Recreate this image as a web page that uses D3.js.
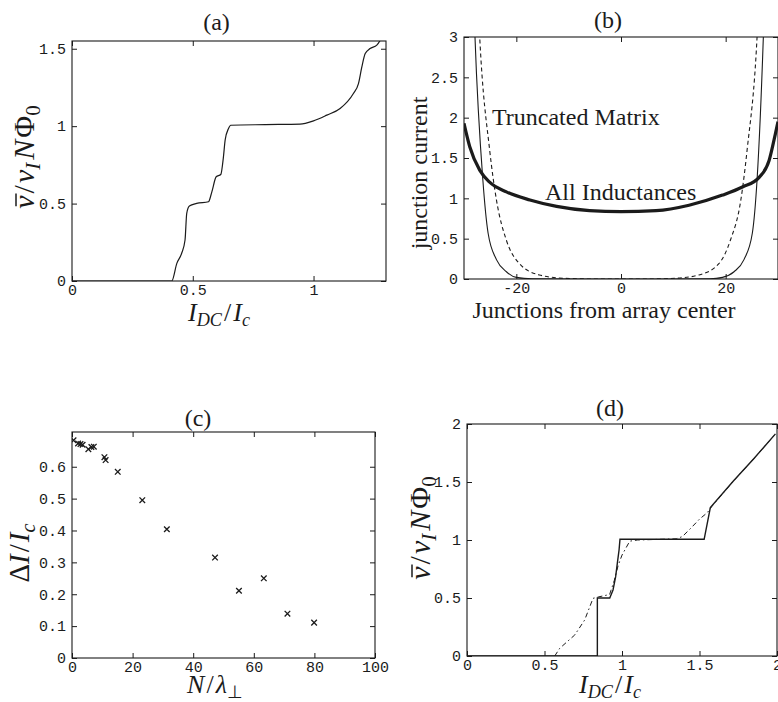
<!DOCTYPE html>
<html>
<head>
<meta charset="utf-8">
<script src="https://cdn.jsdelivr.net/npm/d3@7"></script>
<style>
  body { margin: 0; background: #fff; }
  svg { display: block; }
</style>
</head>
<body>
<svg id="fig" width="778" height="702"></svg>
<script>
// ---------- (a) averaged voltage vs. bias current ----------
const aCurrent = [0, 0.413, 0.434, 0.454, 0.468, 0.475, 0.486, 0.516, 0.565, 0.579, 0.597, 0.616,
                  0.627, 0.634, 0.648, 0.657, 0.8, 0.944, 1.0, 1.055, 1.11, 1.165, 1.186, 1.2,
                  1.214, 1.234, 1.262, 1.285];
const aVoltage = [0, 0, 0.114, 0.179, 0.265, 0.437, 0.484, 0.501, 0.512, 0.576, 0.673, 0.688,
                  0.802, 0.91, 0.985, 1.006, 1.01, 1.013, 1.034, 1.071, 1.114, 1.211, 1.275, 1.383,
                  1.469, 1.501, 1.523, 1.58];
const aXTicks = [0, 0.5, 1];
const aXTickLabels = ["0", "0.5", "1"];
const aYTicks = [0, 0.5, 1, 1.5];
const aYTickLabels = ["0", "0.5", "1", "1.5"];

// ---------- (b) junction current profile along the array ----------
const bTruncJ = [-30, -29, -27.9, -26.4, -25.4, -23.8, -21.9, -20, -17, 0, 17, 19.4, 21.6, 23.5, 25.1, 26.0, 27.2, 28.3, 30];
const bTruncI = [8, 5.5, 3.0, 1.23, 0.57, 0.24, 0.09, 0.02, 0.003, 0, 0.003, 0.02, 0.09, 0.24, 0.57, 1.23, 3.0, 5.5, 9];
const bDashJ = [-29.5, -28.5, -27.0, -25.1, -23.8, -21.9, -19.4, -15.6, -11.1, -5, 0, 5, 10.5, 14.9, 18.7, 20.9, 22.9, 24.1, 26.0, 27.5, 29];
const bDashI = [8, 5.5, 3.0, 1.6, 0.98, 0.48, 0.19, 0.05, 0.01, 0, 0, 0, 0.01, 0.05, 0.19, 0.48, 0.98, 1.6, 3.0, 5.5, 8];
const bAllJ = [-30, -28.9, -27, -25.1, -21.9, -17.4, -12.3, -6, 0, 6.7, 13, 19.4, 23.2, 26.4, 28.3, 29.5, 30];
const bAllI = [1.93, 1.64, 1.35, 1.2, 1.08, 0.98, 0.9, 0.847, 0.834, 0.847, 0.915, 1.04, 1.14, 1.26, 1.47, 1.8, 1.95];
const bXTicks = [-20, 0, 20];
const bXTickLabels = ["-20", "0", "20"];
const bYTicks = [0, 0.5, 1, 1.5, 2, 2.5, 3];
const bYTickLabels = ["0", "0.5", "1", "1.5", "2", "2.5", "3"];

// ---------- (c) step width vs. N / lambda ----------
const cRatio = [0.5, 2.0, 2.8, 3.5, 5.4, 6.4, 7.2, 10.7, 11.1, 15.1, 23.2, 31.3, 47.2, 55.1, 63.3, 71.1, 79.9];
const cWidth = [0.683, 0.673, 0.671, 0.669, 0.655, 0.662, 0.663, 0.63, 0.621, 0.584, 0.495, 0.404, 0.315, 0.211, 0.25, 0.139, 0.111];
const cXTicks = [0, 20, 40, 60, 80, 100];
const cXTickLabels = ["0", "20", "40", "60", "80", "100"];
const cYTicks = [0, 0.1, 0.2, 0.3, 0.4, 0.5, 0.6];
const cYTickLabels = ["0", "0.1", "0.2", "0.3", "0.4", "0.5", "0.6"];

// ---------- (d) two I-V curves ----------
const dSolidI = [0, 0.841, 0.841, 0.921, 0.942, 0.959, 0.970, 0.981, 0.987, 1.53, 1.57, 1.72, 1.85, 1.99];
const dSolidV = [0, 0, 0.5, 0.5, 0.569, 0.684, 0.8, 0.914, 1.006, 1.006, 1.28, 1.51, 1.7, 1.915];
const dDashI = [0.566, 0.598, 0.695, 0.759, 0.813, 0.85, 0.92, 0.95, 0.975, 1.0, 1.05, 1.1, 1.35, 1.39, 1.45, 1.5, 1.55, 1.58, 1.72, 1.85, 1.99];
const dDashV = [0, 0.066, 0.181, 0.31, 0.497, 0.51, 0.53, 0.65, 0.78, 0.87, 0.99, 1.0, 1.01, 1.03, 1.11, 1.18, 1.235, 1.29, 1.51, 1.7, 1.915];
const dXTicks = [0, 0.5, 1, 1.5, 2];
const dXTickLabels = ["0", "0.5", "1", "1.5", "2"];
const dYTicks = [0, 0.5, 1, 1.5, 2];
const dYTickLabels = ["0", "0.5", "1", "1.5", "2"];

const INK = "#1b1b1b";
const SERIF = '"Liberation Serif", "Times New Roman", serif';
const MONO = '"Liberation Mono", "Courier New", monospace';
const svg = d3.select("#fig");
let clipCount = 0;

// Boxed axes with inward ticks on all four sides.
function panel(box, xDom, yDom, xt, xtl, yt, ytl) {
  const x = d3.scaleLinear().domain(xDom).range([box.l, box.r]);
  const y = d3.scaleLinear().domain(yDom).range([box.b, box.t]);
  const g = svg.append("g");
  const fmt = (ticks, labels) => d => labels[ticks.indexOf(d)];
  const blank = () => "";
  const style = sel => {
    sel.select(".domain").remove();
    sel.selectAll("line").attr("stroke", INK);
    sel.selectAll("text").attr("font-family", MONO).attr("font-size", 15).attr("fill", INK);
  };
  g.append("g").attr("transform", `translate(0,${box.b})`)
    .call(d3.axisBottom(x).tickValues(xt).tickFormat(fmt(xt, xtl)).tickSizeInner(-5).tickSizeOuter(0).tickPadding(3))
    .call(style);
  g.append("g").attr("transform", `translate(0,${box.t})`)
    .call(d3.axisTop(x).tickValues(xt).tickFormat(blank).tickSizeInner(-5).tickSizeOuter(0))
    .call(style);
  g.append("g").attr("transform", `translate(${box.l},0)`)
    .call(d3.axisLeft(y).tickValues(yt).tickFormat(fmt(yt, ytl)).tickSizeInner(-5).tickSizeOuter(0).tickPadding(6))
    .call(style);
  g.append("g").attr("transform", `translate(${box.r},0)`)
    .call(d3.axisRight(y).tickValues(yt).tickFormat(blank).tickSizeInner(-5).tickSizeOuter(0))
    .call(style);

  const id = "clip" + (clipCount++);
  svg.append("clipPath").attr("id", id).append("rect")
    .attr("x", box.l).attr("y", box.t).attr("width", box.r - box.l).attr("height", box.b - box.t);
  const plot = g.append("g").attr("clip-path", `url(#${id})`);

  g.append("rect").attr("x", box.l).attr("y", box.t)
    .attr("width", box.r - box.l).attr("height", box.b - box.t)
    .attr("fill", "none").attr("stroke", INK).attr("stroke-width", 1.1);
  return { g, x, y, plot };
}

function serifText(txt, x, y, opts = {}) {
  const t = svg.append("text").attr("x", x).attr("y", y)
    .attr("font-family", SERIF).attr("font-size", opts.size || 24).attr("fill", INK)
    .attr("text-anchor", opts.anchor || "middle").text(txt);
  if (opts.rotate) t.attr("transform", `rotate(${opts.rotate},${x},${y})`);
  return t;
}

// Small math label built from pieces: italic letters, subscripts, overline.
function mathLabel(pieces, size, x, y, rotate) {
  const g = svg.append("g").attr("transform", `translate(${x},${y})` + (rotate ? ` rotate(${rotate})` : ""));
  const inner = g.append("g");
  let cx = 0;
  pieces.forEach(p => {
    const fs = p.sub ? size * 0.7 : size;
    const t = inner.append("text").attr("x", cx).attr("y", p.sub ? size * 0.2 : 0)
      .attr("font-family", SERIF).attr("font-size", fs).attr("fill", INK)
      .attr("font-style", p.it ? "italic" : "normal").text(p.t);
    const w = t.node().getComputedTextLength();
    if (p.over) {
      inner.append("line").attr("x1", cx + size * 0.08).attr("x2", cx + w + size * 0.06)
        .attr("y1", -size * 0.6).attr("y2", -size * 0.6)
        .attr("stroke", INK).attr("stroke-width", size * 0.05);
    }
    cx += w + (p.gap || 0);
  });
  inner.attr("transform", `translate(${-cx / 2},0)`);
  return g;
}

const vLabel = [{ t: "v", it: true, over: true, gap: 2 }, { t: "/", gap: 2 }, { t: "ν", it: true },
                { t: "I", it: true, sub: true, gap: 3 }, { t: "N", it: true, gap: 2 }, { t: "Φ" }, { t: "0", sub: true }];
const iLabel = [{ t: "I", it: true }, { t: "DC", it: true, sub: true, gap: 2 }, { t: "/", gap: 2 },
                { t: "I", it: true }, { t: "c", it: true, sub: true }];
const dLabel = [{ t: "Δ" }, { t: "I", it: true, gap: 2 }, { t: "/", gap: 2 }, { t: "I", it: true }, { t: "c", it: true, sub: true }];
const nLabel = [{ t: "N", it: true, gap: 2 }, { t: "/", gap: 2 }, { t: "λ", it: true }, { t: "⊥", sub: true }];

// ---------- panel (a) ----------
{
  const p = panel({ l: 72, r: 386, t: 41, b: 281 }, [0, 1.3], [0, 1.55], aXTicks, aXTickLabels, aYTicks, aYTickLabels);
  const line = d3.line().x((d, i) => p.x(aCurrent[i])).y(d => p.y(d)).curve(d3.curveMonotoneX);
  p.plot.append("path").attr("d", line(aVoltage)).attr("fill", "none").attr("stroke", INK).attr("stroke-width", 1.2);
  serifText("(a)", 216.5, 30);
  mathLabel(vLabel, 30, 34, 157, -90);
  mathLabel(iLabel, 26, 219, 321);
}

// ---------- panel (b) ----------
{
  const p = panel({ l: 464, r: 778, t: 37, b: 279 }, [-30, 30], [0, 3], bXTicks, bXTickLabels, bYTicks, bYTickLabels);
  const mk = (J) => d3.line().x((d, i) => p.x(J[i])).y(d => p.y(d)).curve(d3.curveMonotoneX);
  p.plot.append("path").attr("d", mk(bTruncJ)(bTruncI)).attr("fill", "none").attr("stroke", INK).attr("stroke-width", 1.1);
  p.plot.append("path").attr("d", mk(bDashJ)(bDashI)).attr("fill", "none").attr("stroke", INK)
    .attr("stroke-width", 1.1).attr("stroke-dasharray", "4,3");
  p.plot.append("path").attr("d", mk(bAllJ)(bAllI)).attr("fill", "none").attr("stroke", INK).attr("stroke-width", 3.2);
  serifText("(b)", 608, 28);
  serifText("Truncated Matrix", 492, 125, { anchor: "start" });
  serifText("All Inductances", 545, 200, { anchor: "start" });
  serifText("junction current", 427, 173, { rotate: -90 });
  serifText("Junctions from array center", 604, 318);
}

// ---------- panel (c) ----------
{
  const p = panel({ l: 72, r: 375, t: 432, b: 658 }, [0, 100], [0, 0.709], cXTicks, cXTickLabels, cYTicks, cYTickLabels);
  const s = 2.8;
  p.plot.selectAll("path.mark").data(cWidth).join("path").attr("class", "mark")
    .attr("d", (d, i) => {
      const cx = p.x(cRatio[i]), cy = p.y(d);
      return `M${cx - s},${cy - s}L${cx + s},${cy + s}M${cx - s},${cy + s}L${cx + s},${cy - s}`;
    })
    .attr("fill", "none").attr("stroke", INK).attr("stroke-width", 1.3);
  serifText("(c)", 198, 426);
  mathLabel(dLabel, 29, 29, 553, -90);
  mathLabel(nLabel, 26, 215, 693);
}

// ---------- panel (d) ----------
{
  const p = panel({ l: 467, r: 777, t: 424, b: 656 }, [0, 2], [0, 2], dXTicks, dXTickLabels, dYTicks, dYTickLabels);
  const solid = d3.line().x((d, i) => p.x(dSolidI[i])).y(d => p.y(d));
  const dash = d3.line().x((d, i) => p.x(dDashI[i])).y(d => p.y(d));
  p.plot.append("path").attr("d", dash(dDashV)).attr("fill", "none").attr("stroke", INK)
    .attr("stroke-width", 1).attr("stroke-dasharray", "5,3,1.5,3");
  p.plot.append("path").attr("d", solid(dSolidV)).attr("fill", "none").attr("stroke", INK).attr("stroke-width", 1.4);
  serifText("(d)", 610, 416);
  mathLabel(vLabel, 30, 430, 528, -90);
  mathLabel(iLabel, 26, 610, 693);
}
</script>
</body>
</html>
